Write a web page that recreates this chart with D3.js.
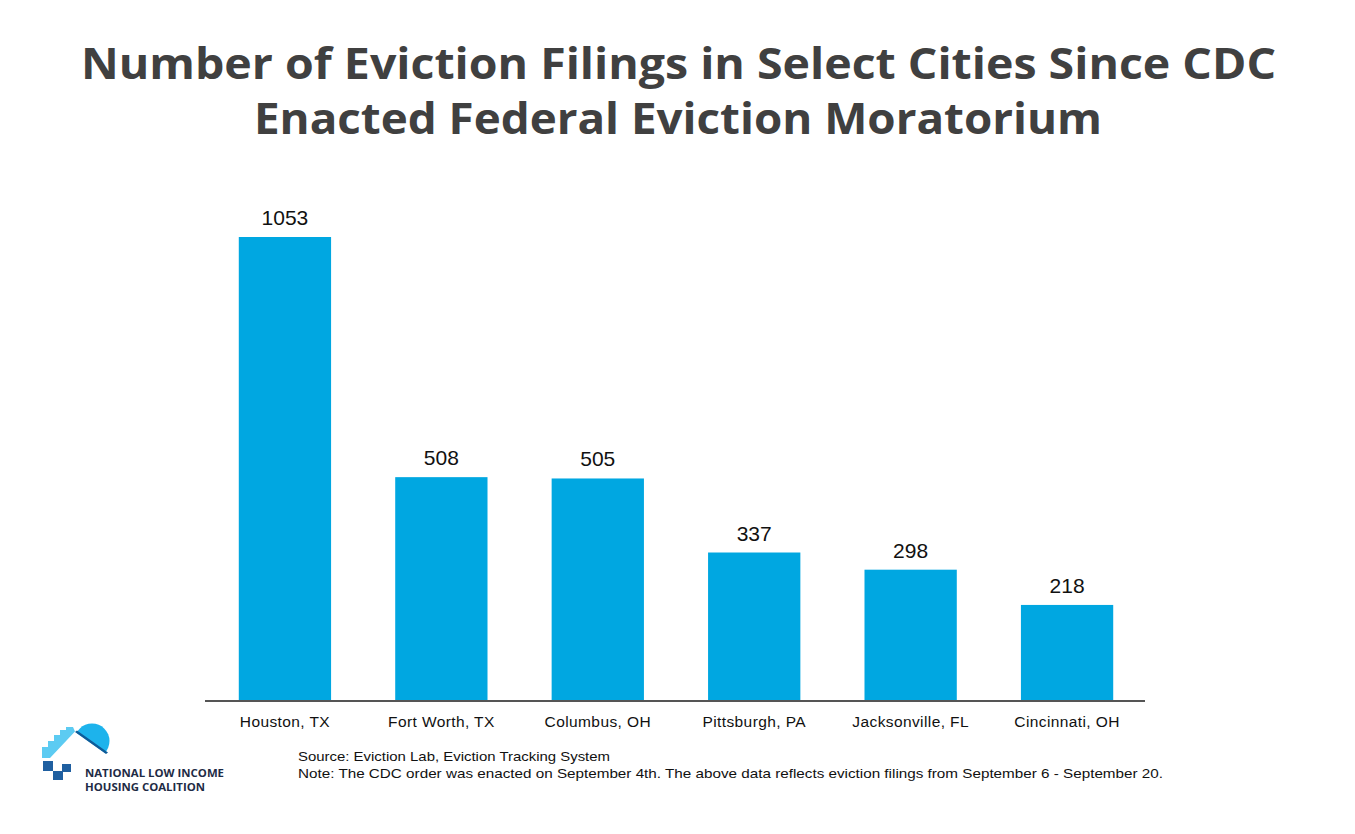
<!DOCTYPE html>
<html>
<head>
<meta charset="utf-8">
<script src="https://cdn.jsdelivr.net/npm/d3@7"></script>
<style>
  html, body { margin: 0; padding: 0; background: #fff; }
  svg { display: block; }
  text { font-variant-ligatures: none; }
</style>
</head>
<body>
<svg id="chart" width="1355" height="834"></svg>
<script>
const titleLines = ["Number of Eviction Filings in Select Cities Since CDC", "Enacted Federal Eviction Moratorium"];
const cities = ["Houston, TX", "Fort Worth, TX", "Columbus, OH", "Pittsburgh, PA", "Jacksonville, FL", "Cincinnati, OH"];
const filings = [1053, 508, 505, 337, 298, 218];
const sourceLines = [
  "Source: Eviction Lab, Eviction Tracking System",
  "Note: The CDC order was enacted on September 4th. The above data reflects eviction filings from September 6 - September 20."
];
const logoLines = ["NATIONAL LOW INCOME", "HOUSING COALITION"];

const svg = d3.select("#chart");
const data = cities.map((c, i) => ({ city: c, value: filings[i] }));

const baseY = 701;
const x = d3.scaleBand().domain(cities).range([207.5, 1144.5]).paddingInner(0.41).paddingOuter(0.2);
const y = d3.scaleLinear().domain([0, 1053]).range([baseY, 237]);

// Title
const titleFont = "'Open Sans', Lato, sans-serif";
svg.append("text").attr("x", 678.5).attr("y", 79).attr("text-anchor", "middle")
  .attr("font-family", titleFont).attr("font-weight", 700).attr("font-size", 43)
  .attr("fill", "#404040")
  .attr("textLength", 1195).attr("lengthAdjust", "spacingAndGlyphs")
  .text(titleLines[0]);
svg.append("text").attr("x", 678).attr("y", 134).attr("text-anchor", "middle")
  .attr("font-family", titleFont).attr("font-weight", 700).attr("font-size", 43)
  .attr("fill", "#404040")
  .attr("textLength", 848).attr("lengthAdjust", "spacingAndGlyphs")
  .text(titleLines[1]);

// Bars
svg.append("g").selectAll("rect").data(data).join("rect")
  .attr("x", d => x(d.city)).attr("width", x.bandwidth())
  .attr("y", d => y(d.value)).attr("height", d => baseY - y(d.value))
  .attr("fill", "#00A7E1");

// Value labels
svg.append("g").selectAll("text").data(data).join("text")
  .attr("x", d => x(d.city) + x.bandwidth() / 2)
  .attr("y", d => y(d.value) - 12)
  .attr("text-anchor", "middle")
  .attr("font-family", "'Liberation Sans', Arial, sans-serif")
  .attr("font-size", 21).attr("fill", "#111")
  .text(d => d.value);

// Axis
const axis = svg.append("g").attr("transform", `translate(0,${baseY})`)
  .call(d3.axisBottom(x).tickSize(0).tickPadding(15));
axis.select(".domain").attr("stroke", "#555").attr("stroke-width", 2).attr("d", "M205,0H1145");
axis.selectAll(".tick text")
  .attr("font-family", "'Liberation Sans', Arial, sans-serif")
  .attr("font-size", 15.5).attr("fill", "#111").attr("letter-spacing", 0.4);

// Source
svg.append("text").attr("x", 298).attr("y", 761)
  .attr("font-family", "'Liberation Sans Narrow', 'Liberation Sans', Arial, sans-serif")
  .attr("font-size", 13.5).attr("fill", "#111")
  .attr("textLength", 312).attr("lengthAdjust", "spacingAndGlyphs")
  .text(sourceLines[0]);
svg.append("text").attr("x", 298).attr("y", 778)
  .attr("font-family", "'Liberation Sans Narrow', 'Liberation Sans', Arial, sans-serif")
  .attr("font-size", 13.5).attr("fill", "#111")
  .attr("textLength", 865).attr("lengthAdjust", "spacingAndGlyphs")
  .text(sourceLines[1]);

// Logo
const logo = svg.append("g");
const defs = svg.append("defs");
defs.append("clipPath").attr("id", "sunclip").append("polygon")
  .attr("points", "70,728.2 70,715 120,715 120,763.5");
logo.append("circle").attr("cx", 92).attr("cy", 741).attr("r", 17.5)
  .attr("fill", "#1DB3EC").attr("clip-path", "url(#sunclip)");
logo.append("path").attr("d", "M75,732 L106,754 L108,752.5 L77,730.5 Z").attr("fill", "#0E5C99");
// stepped roof
logo.append("path")
  .attr("d", "M42,747 L48,747 L48,741 L54,741 L54,735 L60,735 L60,730 L66,730 L66,727 L73,727 L75,731.5 L50,758 L42,758 Z")
  .attr("fill", "#5CCBF2");
// dark squares
logo.append("rect").attr("x", 43).attr("y", 761).attr("width", 10).attr("height", 10).attr("fill", "#1F5FA0");
logo.append("rect").attr("x", 53).attr("y", 771).attr("width", 10).attr("height", 9).attr("fill", "#1F5FA0");
logo.append("rect").attr("x", 62).attr("y", 764).attr("width", 9).attr("height", 8).attr("fill", "#1F5FA0");
logoLines.forEach((l, i) => {
  logo.append("text").attr("x", 85).attr("y", 777 + i * 13.5)
    .attr("font-family", "'Open Sans', Lato, sans-serif").attr("font-weight", 700)
    .attr("font-size", 11).attr("fill", "#1E2B45")
    .attr("textLength", i === 0 ? 139 : 120).attr("lengthAdjust", "spacingAndGlyphs")
    .text(l);
});
</script>
</body>
</html>
